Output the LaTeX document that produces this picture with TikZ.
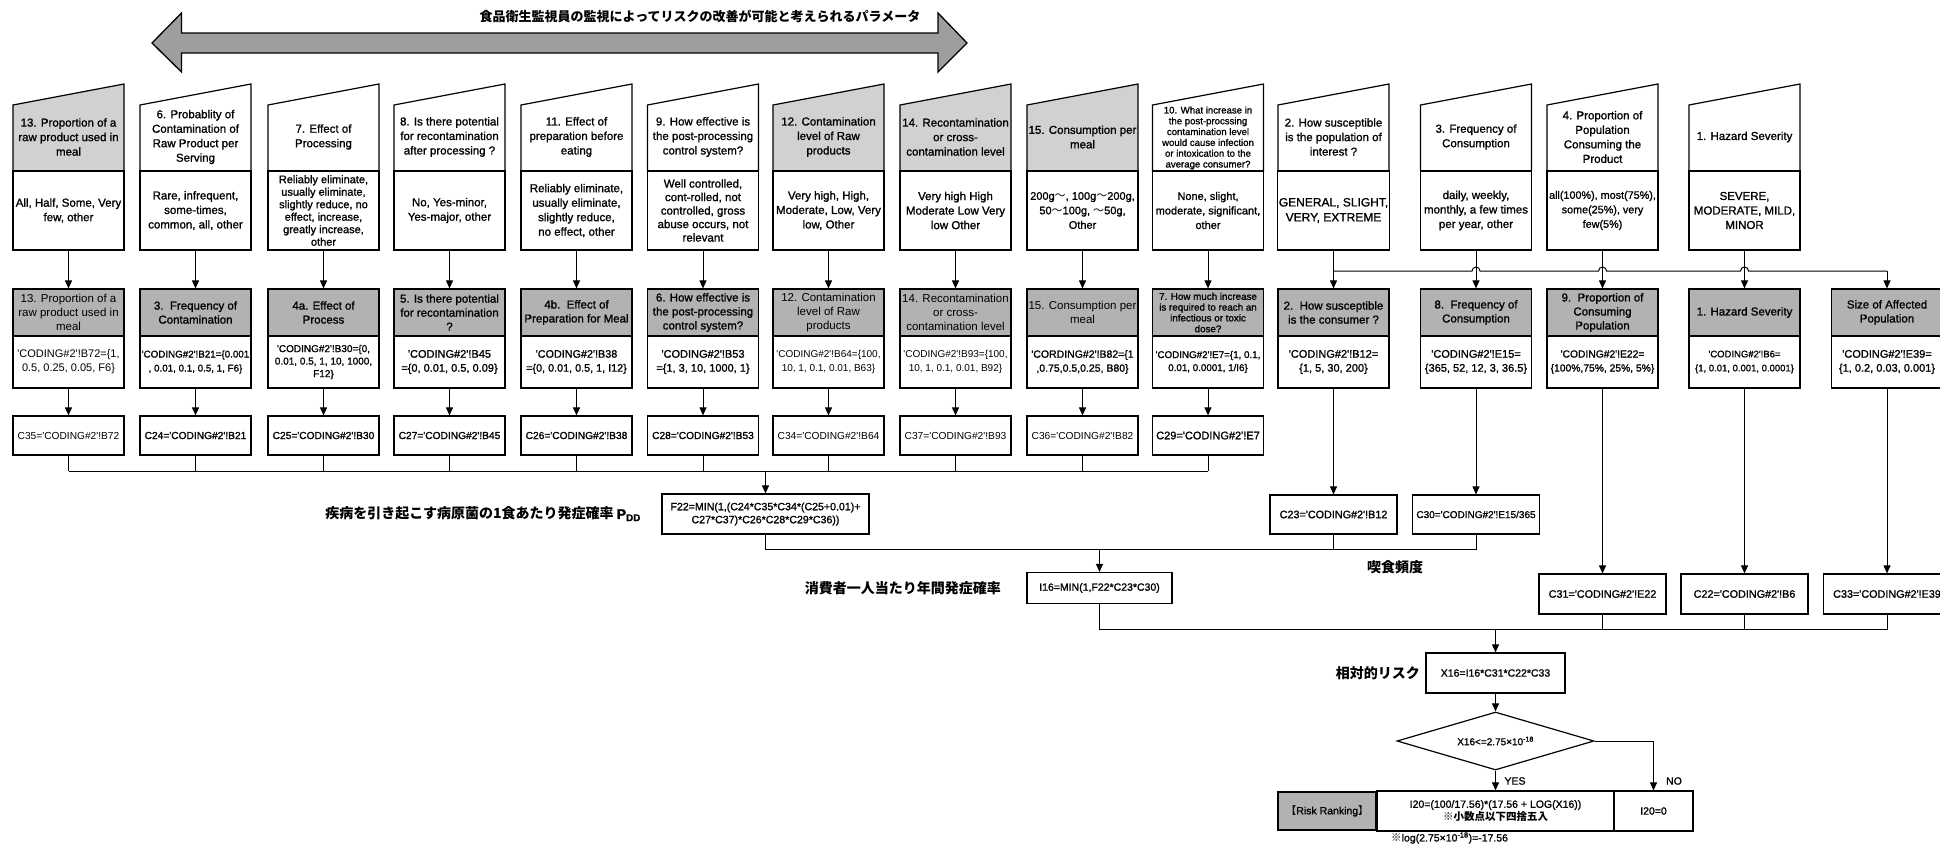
\documentclass[tikz,border=0pt]{standalone}
\usepackage{fontspec}
\setmainfont{Liberation Sans}[Ligatures=TeXOff]
\newfontfamily\bkf{Liberation Sans}[Ligatures=TeXOff,FakeBold=1.2]
\newfontfamily\jp{Noto Sans CJK JP}
\usetikzlibrary{arrows.meta,shapes.geometric}
\newcommand\fz[2]{\fontsize{#1}{#2}\selectfont}
\definecolor{midgray}{gray}{0.70}
\definecolor{hdrlight}{gray}{0.82}
\definecolor{arrgray}{gray}{0.62}
\begin{document}
\begin{tikzpicture}[x=1pt,y=-1pt,
  conn/.style={line width=1pt},
  arr/.style={conn,-{Triangle[length=8pt,width=7pt]}},
  bline/.style={line width=1.2pt},
  thd/.style={align=center,inner sep=0pt,font=\bkf\fz{11.5}{14.5}},
  tbody/.style={draw,bline,minimum width=111pt,minimum height=79pt,align=center,inner sep=1pt,font=\bkf\fz{11.5}{14.5}},
  mhead/.style={draw,bline,fill=midgray,minimum width=111pt,minimum height=47pt,align=center,inner sep=1pt,font=\bkf\fz{11.5}{14}},
  mbody/.style={draw,bline,fill=white,minimum width=111pt,minimum height=52pt,align=center,inner sep=1pt,font=\bkf\fz{11}{14}},
  cbox/.style={draw,bline,fill=white,minimum width=111pt,minimum height=39pt,align=center,inner sep=1pt,font=\bkf\fz{10.2}{12}},
  cwide/.style={cbox,minimum width=127pt,font=\bkf\fz{10.8}{12}},
  fbox/.style={draw,bline,fill=white,align=center,inner sep=1pt,font=\bkf\fz{10.5}{13}},
  jlab/.style={inner sep=0pt,font=\jp\bfseries\fz{14}{16}},
  small/.style={inner sep=0pt,font=\bkf\fz{10.5}{12}}]
\useasboundingbox (0,0) rectangle (1940,846);
\fill[white] (0,0) rectangle (1940,846);

% ---- title arrow ----
\filldraw[fill=arrgray,line width=1.3pt] (152,43) -- (181.5,13) -- (181.5,33) -- (938,33) -- (938,13) -- (967,43) -- (938,72) -- (938,53) -- (181.5,53) -- (181.5,72) -- cycle;
\node[jlab,font=\jp\bfseries\fz{13}{15}] (title) at (700,16) {食品衛生監視員の監視によってリスクの改善が可能と考えられるパラメータ};

% ---- top (manual input) boxes ----
\foreach \x in {68.5,828.5,955.5,1082.5}
  \fill[hdrlight] ({\x-55.5},171) -- ({\x-55.5},105) -- ({\x+55.5},84) -- ({\x+55.5},171) -- cycle;
\foreach \x in {68.5,195.5,323.5,449.5,576.5,703,828.5,955.5,1082.5,1208,1333.5,1476,1602.5,1744.5}
  \draw[bline] ({\x-55.5},171) -- ({\x-55.5},105) -- ({\x+55.5},84) -- ({\x+55.5},171);

\node[thd] (th1) at (68.5,137) {13. Proportion of a\\raw product used in\\meal};
\node[thd] (th2) at (195.5,137) {6. Probablity of\\Contamination of\\Raw Product per\\Serving};
\node[thd] (th3) at (323.5,137) {7. Effect of\\Processing};
\node[thd] (th4) at (449.5,137) {8. Is there potential\\for recontamination\\after processing ?};
\node[thd] (th5) at (576.5,137) {11. Effect of\\preparation before\\eating};
\node[thd] (th6) at (703,137) {9. How effective is\\the post-processing\\control system?};
\node[thd] (th7) at (828.5,137) {12. Contamination\\level of Raw\\products};
\node[thd] (th8) at (955.5,137) {14. Recontamination\\or cross-\\contamination level};
\node[thd] (th9) at (1082.5,137) {15. Consumption per\\meal};
\node[thd,font=\bkf\fz{9.6}{10.8}] (th10) at (1208,138) {10. What increase in\\the post-procssing\\contamination level\\would cause infection\\or intoxication to the\\average consumer?};
\node[thd] (th11) at (1333.5,137) {2. How susceptible\\is the population of\\interest ?};
\node[thd] (th12) at (1476,137) {3. Frequency of\\Consumption};
\node[thd] (th13) at (1602.5,137) {4. Proportion of\\Population\\Consuming the\\Product};
\node[thd] (th14) at (1744.5,137) {1. Hazard Severity};

\node[tbody] (tb1) at (68.5,210.5) {All, Half, Some, Very\\few, other};
\node[tbody] (tb2) at (195.5,210.5) {Rare, infrequent,\\some-times,\\common, all, other};
\node[tbody,font=\bkf\fz{11}{12.5}] (tb3) at (323.5,210.5) {Reliably eliminate,\\usually eliminate,\\slightly reduce, no\\effect, increase,\\greatly increase,\\other};
\node[tbody] (tb4) at (449.5,210.5) {No, Yes-minor,\\Yes-major, other};
\node[tbody] (tb5) at (576.5,210.5) {Reliably eliminate,\\usually eliminate,\\slightly reduce,\\no effect, other};
\node[tbody,font=\bkf\fz{11.5}{13.5}] (tb6) at (703,210.5) {Well controlled,\\cont-rolled, not\\controlled, gross\\abuse occurs, not\\relevant};
\node[tbody] (tb7) at (828.5,210.5) {Very high, High,\\Moderate, Low, Very\\low, Other};
\node[tbody] (tb8) at (955.5,210.5) {Very high High\\Moderate Low Very\\low Other};
\node[tbody,font=\bkf\fz{11}{14.5}] (tb9) at (1082.5,210.5) {200g{\jp ～}, 100g{\jp ～}200g,\\50{\jp ～}100g, {\jp ～}50g,\\Other};
\node[tbody,font=\bkf\fz{11}{14.5}] (tb10) at (1208,210.5) {None, slight,\\moderate, significant,\\other};
\node[tbody,font=\bkf\fz{12}{15}] (tb11) at (1333.5,210.5) {GENERAL, SLIGHT,\\VERY, EXTREME};
\node[tbody] (tb12) at (1476,210.5) {daily, weekly,\\monthly, a few times\\per year, other};
\node[tbody,font=\bkf\fz{10.8}{14.5}] (tb13) at (1602.5,210.5) {all(100\%), most(75\%),\\some(25\%), very\\few(5\%)};
\node[tbody] (tb14) at (1744.5,210.5) {SEVERE,\\MODERATE, MILD,\\MINOR};

% ---- middle boxes ----
\node[mhead,font=\fz{11.5}{14}] (mh1) at (68.5,312.5) {13. Proportion of a\\raw product used in\\meal};
\node[mhead] (mh2) at (195.5,312.5) {3.\ \ Frequency of\\Contamination};
\node[mhead] (mh3) at (323.5,312.5) {4a. Effect of\\Process};
\node[mhead] (mh4) at (449.5,312.5) {5. Is there potential\\for recontamination\\?};
\node[mhead] (mh5) at (576.5,312.5) {4b.\ \ Effect of\\Preparation for Meal};
\node[mhead] (mh6) at (703,312.5) {6. How effective is\\the post-processing\\control system?};
\node[mhead,font=\fz{11.5}{14}] (mh7) at (828.5,312.5) {12. Contamination\\level of Raw\\products};
\node[mhead,font=\fz{11.5}{14}] (mh8) at (955.5,312.5) {14. Recontamination\\or cross-\\contamination level};
\node[mhead,font=\fz{11.5}{14}] (mh9) at (1082.5,312.5) {15. Consumption per\\meal};
\node[mhead,font=\bkf\fz{9.8}{10.8}] (mh10) at (1208,312.5) {7. How much increase\\is required to reach an\\infectious or toxic\\dose?};
\node[mhead] (mh11) at (1333.5,312.5) {2.\ \ How susceptible\\is the consumer ?};
\node[mhead] (mh12) at (1476,312.5) {8.\ \ Frequency of\\Consumption};
\node[mhead] (mh13) at (1602.5,312.5) {9.\ \ Proportion of\\Consuming\\Population};
\node[mhead] (mh14) at (1744.5,312.5) {1. Hazard Severity};
\node[mhead] (mh15) at (1887,312.5) {Size of Affected\\Population};

\node[mbody,font=\fz{11}{14}] (mb1) at (68.5,362) {'CODING\#2'!B72=\{1,\\0.5, 0.25, 0.05, F6\}};
\node[mbody,font=\bkf\fz{9.8}{14}] (mb2) at (195.5,362) {'CODING\#2'!B21=\{0.001\\, 0.01, 0.1, 0.5, 1, F6\}};
\node[mbody,font=\bkf\fz{10}{12.5}] (mb3) at (323.5,362) {'CODING\#2'!B30=\{0,\\0.01, 0.5, 1, 10, 1000,\\F12\}};
\node[mbody] (mb4) at (449.5,362) {'CODING\#2'!B45\\=\{0, 0.01, 0.5, 0.09\}};
\node[mbody,font=\bkf\fz{10.8}{14}] (mb5) at (576.5,362) {'CODING\#2'!B38\\=\{0, 0.01, 0.5, 1, I12\}};
\node[mbody] (mb6) at (703,362) {'CODING\#2'!B53\\=\{1, 3, 10, 1000, 1\}};
\node[mbody,font=\fz{10}{14}] (mb7) at (828.5,362) {'CODING\#2'!B64=\{100,\\10, 1, 0.1, 0.01, B63\}};
\node[mbody,font=\fz{10}{14}] (mb8) at (955.5,362) {'CODING\#2'!B93=\{100,\\10, 1, 0.1, 0.01, B92\}};
\node[mbody,font=\bkf\fz{10.5}{14}] (mb9) at (1082.5,362) {'CORDING\#2'!B82=\{1\\,0.75,0.5,0.25, B80\}};
\node[mbody,font=\bkf\fz{9.8}{13}] (mb10) at (1208,362) {'CODING\#2'!E7=\{1, 0.1,\\0.01, 0.0001, 1/I6\}};
\node[mbody] (mb11) at (1333.5,362) {'CODING\#2'!B12=\\\{1, 5, 30, 200\}};
\node[mbody] (mb12) at (1476,362) {'CODING\#2'!E15=\\\{365, 52, 12, 3, 36.5\}};
\node[mbody,font=\bkf\fz{10.3}{14}] (mb13) at (1602.5,362) {'CODING\#2'!E22=\\\{100\%,75\%, 25\%, 5\%\}};
\node[mbody,font=\bkf\fz{9.5}{14}] (mb14) at (1744.5,362) {'CODING\#2'!B6=\\\{1, 0.01, 0.001, 0.0001\}};
\node[mbody] (mb15) at (1887,362) {'CODING\#2'!E39=\\\{1, 0.2, 0.03, 0.001\}};

% ---- C boxes ----
\node[cbox,font=\fz{10.2}{12}] (cb1) at (68.5,435.5) {C35='CODING\#2'!B72};
\node[cbox] (cb2) at (195.5,435.5) {C24='CODING\#2'!B21};
\node[cbox] (cb3) at (323.5,435.5) {C25='CODING\#2'!B30};
\node[cbox] (cb4) at (449.5,435.5) {C27='CODING\#2'!B45};
\node[cbox] (cb5) at (576.5,435.5) {C26='CODING\#2'!B38};
\node[cbox] (cb6) at (703,435.5) {C28='CODING\#2'!B53};
\node[cbox,font=\fz{10.2}{12}] (cb7) at (828.5,435.5) {C34='CODING\#2'!B64};
\node[cbox,font=\fz{10.2}{12}] (cb8) at (955.5,435.5) {C37='CODING\#2'!B93};
\node[cbox,font=\fz{10.2}{12}] (cb9) at (1082.5,435.5) {C36='CODING\#2'!B82};
\node[cbox,font=\bkf\fz{11}{12}] (cb10) at (1208,435.5) {C29='CODING\#2'!E7};
\node[cwide] (cb11) at (1333.5,514.5) {C23='CODING\#2'!B12};
\node[cwide,font=\bkf\fz{10}{12}] (cb12) at (1476,514.5) {C30='CODING\#2'!E15/365};
\node[cwide,minimum height=40pt] (cb13) at (1602.5,594) {C31='CODING\#2'!E22};
\node[cwide,minimum height=40pt] (cb14) at (1744.5,594) {C22='CODING\#2'!B6};
\node[cwide,minimum height=40pt] (cb15) at (1887,594) {C33='CODING\#2'!E39};

% ---- formula boxes ----
\node[fbox,minimum width=207pt,minimum height=40pt,font=\bkf\fz{10.6}{13}] (f22) at (765.5,514) {F22=MIN(1,(C24*C35*C34*(C25+0.01)+\\C27*C37)*C26*C28*C29*C36))};
\node[fbox,minimum width=145pt,minimum height=31pt] (i16) at (1099.5,588) {I16=MIN(1,F22*C23*C30)};
\node[fbox,minimum width=139pt,minimum height=40pt] (x16) at (1495.5,673) {X16=I16*C31*C22*C33};
\node[fbox,shape=diamond,aspect=3.4,inner sep=0pt,minimum width=197pt,minimum height=58pt,font=\bkf\fz{10}{12}] (dia) at (1495.5,741) {X16<=2.75×10\textsuperscript{-18}};
\node[fbox,fill=midgray,line width=2.4pt,minimum width=98pt,minimum height=38.5pt] (rr) at (1327.25,811) {{\jp 【}Risk Ranking{\jp 】}};
\node[fbox,minimum width=237pt,minimum height=40pt] (fml) at (1495.5,811) {I20=(100/17.56)*(17.56 + LOG(X16))\\{\jp\bfseries ※小数点以下四捨五入}};
\node[fbox,minimum width=79pt,minimum height=40pt] (i20z) at (1653.5,811) {I20=0};

% ---- labels ----
\node[jlab,anchor=east] (lpdd) at (641,514) {疾病を引き起こす病原菌の1食あたり発症確率 {\bkf P\textsubscript{DD}}};
\node[jlab,anchor=east] (lyear) at (1001,588) {消費者一人当たり年間発症確率};
\node[jlab] (lfreq) at (1395,567) {喫食頻度};
\node[jlab,anchor=east] (lrel) at (1420,673) {相対的リスク};
\node[small] (lyes) at (1515,781) {YES};
\node[small] (lno) at (1674,781) {NO};
\node[small,anchor=west] (lnote) at (1391,838) {{\jp ※}log(2.75×10\textsuperscript{-18})=-17.56};

% ---- connectors: top -> middle -> C ----
\foreach \i in {1,...,14} \draw[arr] (tb\i.south) -- (mh\i.north);
\foreach \i in {1,...,15} \draw[arr] (mb\i.south) -- (cb\i.north);

% hop line from column 11 to column 15
\coordinate (hy) at (0,271);
\draw[conn] (tb11.south |- hy) -- ([xshift=-4pt]tb12.south |- hy) arc[start angle=180,end angle=0,radius=4pt]
  -- ([xshift=-4pt]tb13.south |- hy) arc[start angle=180,end angle=0,radius=4pt]
  -- ([xshift=-4pt]tb14.south |- hy) arc[start angle=180,end angle=0,radius=4pt]
  -- (mh15.north |- hy);
\draw[arr] (mh15.north |- hy) -- (mh15.north);

% merge 1
\coordinate (ya) at (0,471);
\foreach \i in {1,...,10} \draw[conn] (cb\i.south) -- (cb\i.south |- ya);
\draw[conn] (cb1.south |- ya) -- (cb10.south |- ya);
\draw[arr] (f22.north |- ya) -- (f22.north);

% merge 2
\coordinate (yb) at (0,549);
\draw[conn] (f22.south) -- (f22.south |- yb) -- (cb12.south |- yb) -- (cb12.south);
\draw[conn] (cb11.south) -- (cb11.south |- yb);
\draw[arr] (i16.north |- yb) -- (i16.north);

% merge 3
\coordinate (yc) at (0,629);
\draw[conn] (i16.south) -- (i16.south |- yc) -- (cb15.south |- yc) -- (cb15.south);
\draw[conn] (cb13.south) -- (cb13.south |- yc);
\draw[conn] (cb14.south) -- (cb14.south |- yc);
\draw[arr] (x16.north |- yc) -- (x16.north);

% decision
\draw[arr] (x16.south) -- (dia.north);
\draw[arr] (dia.south) -- (fml.north);
\draw[arr] (dia.east) -| (i20z.north);
\end{tikzpicture}
\end{document}
